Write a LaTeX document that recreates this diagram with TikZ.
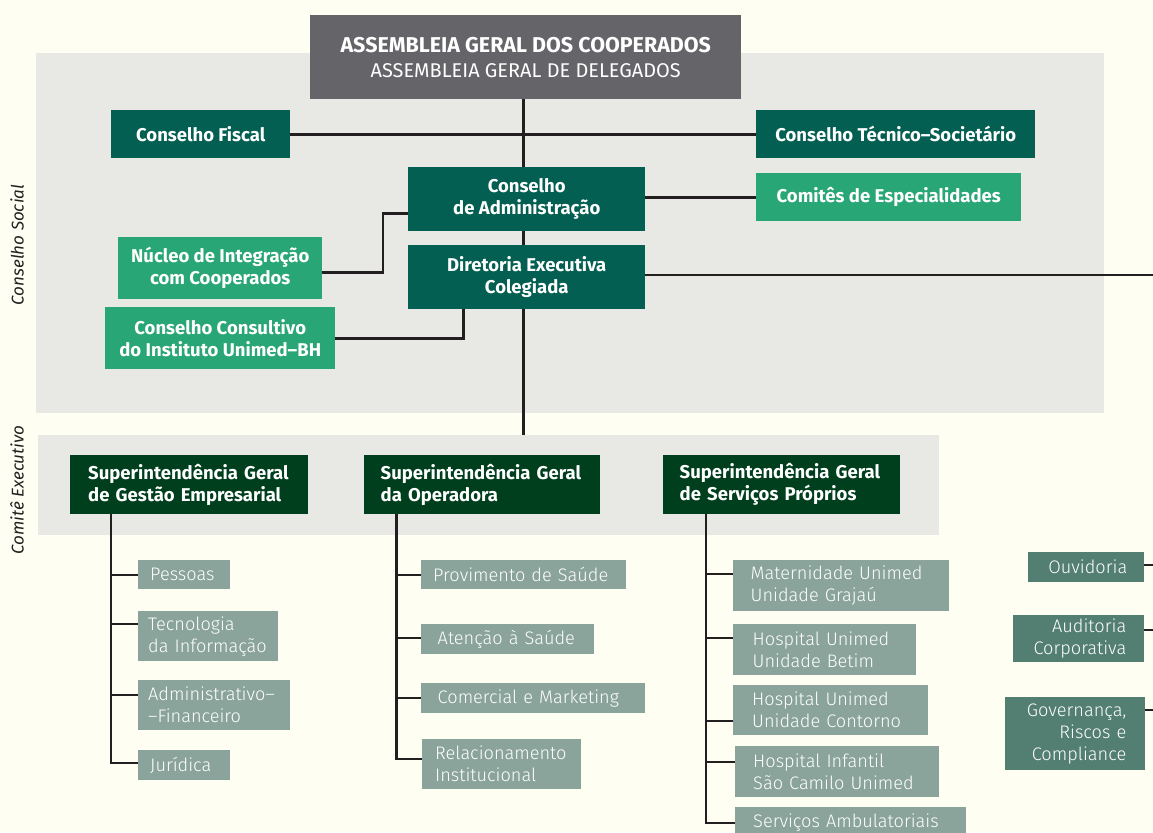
\documentclass[tikz,border=0pt]{standalone}
\usepackage{fontspec}
\setmainfont{Fira Sans}
\newfontfamily\lightfont{Fira Sans Light}

\definecolor{paper}{RGB}{254,254,242}
\definecolor{panel}{RGB}{232,232,228}
\definecolor{assembly}{RGB}{100,100,105}
\definecolor{board}{RGB}{3,95,81}
\definecolor{committee}{RGB}{41,166,118}
\definecolor{superint}{RGB}{0,63,30}
\definecolor{unitgray}{RGB}{138,163,155}
\definecolor{staff}{RGB}{83,126,114}
\definecolor{wire}{RGB}{35,31,32}

\newcommand{\pxu}{0.03cm}

\tikzset{
  box/.style={anchor=north west, inner sep=0pt, text=white, align=center},
  boxsize/.style 2 args={minimum width=#1*\pxu, minimum height=#2*\pxu},
  padbox/.style n args={4}{text width=(#1-#3-#4)*\pxu, inner xsep=(#3+#4)/2*\pxu, minimum height=#2*\pxu},
  link/.style={draw=wire, line width=2.5pt},
  headfont/.style={font=\fontsize{15.8}{18.8}\selectfont\bfseries},
  unitfont/.style={font=\lightfont\fontsize{15.5}{18.8}\selectfont},
  tag/.style={rotate=90, text=wire, font=\fontsize{14.5}{16}\selectfont\itshape},
}

\begin{document}
\begin{tikzpicture}[x=\pxu, y=-\pxu]
  \useasboundingbox (0,0) rectangle (1153,832);
  \clip (0,0) rectangle (1153,832);
  \fill[paper] (0,0) rectangle (1153,832);

  % panels
  \fill[panel] (36,53) rectangle (1104,413);
  \fill[panel] (38,435) rectangle (939,535);
  \node[tag] (socialtag) at (17,245) {Conselho Social};
  \node[tag] (executivetag) at (17,490) {Comitê Executivo};

  % governance
  \node[box, boxsize={431}{84}, fill=assembly, font=\fontsize{17}{21.3}\selectfont] (assembleia) at (310,15)
    {{\fontsize{18.3}{21.3}\selectfont\bfseries ASSEMBLEIA GERAL DOS COOPERADOS}\\
     ASSEMBLEIA GERAL DE DELEGADOS};
  \node[box, headfont, boxsize={179}{48}, fill=board] (fiscal) at (111,110) {Conselho Fiscal};
  \node[box, headfont, boxsize={279}{48}, fill=board] (tecnico) at (756,110) {Conselho Técnico–Societário};
  \node[box, headfont, boxsize={237}{64}, fill=board] (conselhoadm) at (408,167) {Conselho\\de Administração};
  \node[box, headfont, boxsize={265}{48}, fill=committee] (comites) at (756,173) {Comitês de Especialidades};
  \node[box, headfont, boxsize={237}{64}, fill=board] (diretoria) at (408,245) {Diretoria Executiva\\Colegiada};
  \node[box, headfont, boxsize={204}{62}, fill=committee] (nucleo) at (118,237) {Núcleo de Integração\\com Cooperados};
  \node[box, headfont, boxsize={230}{62}, fill=committee] (consultivo) at (105,307) {Conselho Consultivo\\do Instituto Unimed–BH};

  \coordinate (spine) at (523.5,435);
  \coordinate (eastbus) at (1160,275);
  \draw[link] (assembleia.south -| spine) -- (conselhoadm.north -| spine);
  \draw[link] (conselhoadm.south -| spine) -- (diretoria.north -| spine);
  \draw[link] (diretoria.south -| spine) -- (spine);
  \draw[link] (fiscal.east) -- (tecnico.west);
  \draw[link] (conselhoadm.east |- comites.west) -- (comites.west);
  \draw[link] (diretoria.east |- eastbus) -- (eastbus);
  \draw[link] ([yshift=-4*\pxu]nucleo.east) -- ++(60.5,0) |- ([yshift=-14*\pxu]conselhoadm.west);
  \draw[link] (consultivo.east) -| ([xshift=55.5*\pxu]diretoria.south west);

  % superintendencias
  \node[box, headfont, align=left, padbox={238}{59}{16}{20}, fill=superint] (sup1) at (70,455) {Superintendência Geral\\de Gestão Empresarial};
  \node[box, headfont, align=left, padbox={236}{59}{13}{20}, fill=superint] (sup2) at (364,455) {Superintendência Geral\\da Operadora};
  \node[box, headfont, align=left, padbox={237}{59}{15}{18}, fill=superint] (sup3) at (663,455) {Superintendência Geral\\de Serviços Próprios};

  \node[box, unitfont, align=left, padbox={92}{29}{12}{12}, fill=unitgray] (pessoas) at (138,560) {Pessoas};
  \node[box, unitfont, align=left, padbox={140}{50}{12}{8}, fill=unitgray] (tecnologia) at (138,611) {Tecnologia\\da Informação};
  \node[box, unitfont, align=left, padbox={152}{50}{12}{8}, fill=unitgray] (admfin) at (138,680) {Administrativo–\\–Financeiro};
  \node[box, unitfont, align=left, padbox={92}{30}{14}{10}, fill=unitgray] (juridica) at (138,750) {Jurídica};

  \node[box, unitfont, align=left, padbox={205}{29}{16}{8}, fill=unitgray] (provimento) at (421,560) {Provimento de Saúde};
  \node[box, unitfont, align=left, padbox={173}{30}{18}{15}, fill=unitgray] (atencao) at (421,624) {Atenção à Saúde};
  \node[box, unitfont, align=left, padbox={224}{30}{18}{15}, fill=unitgray] (comercial) at (421,683) {Comercial e Marketing};
  \node[box, unitfont, align=left, padbox={159}{50}{16}{10}, fill=unitgray] (relacionamento) at (422,739) {Relacionamento\\Institucional};

  \node[box, unitfont, align=left, padbox={216}{51}{21}{14}, fill=unitgray] (maternidade) at (733,560) {Maternidade Unimed\\Unidade Grajaú};
  \node[box, unitfont, align=left, padbox={183}{51}{21}{18}, fill=unitgray] (betim) at (733,624) {Hospital Unimed\\Unidade Betim};
  \node[box, unitfont, align=left, padbox={195}{50}{21}{17}, fill=unitgray] (contorno) at (733,685) {Hospital Unimed\\Unidade Contorno};
  \node[box, unitfont, align=left, padbox={204}{51}{19}{17}, fill=unitgray] (infantil) at (735,746) {Hospital Infantil\\São Camilo Unimed};
  \node[box, unitfont, align=left, padbox={231}{30}{19}{17}, fill=unitgray] (servicos) at (735,807) {Serviços Ambulatoriais};

  \foreach \c/\o in {pessoas/15, tecnologia/13, admfin/15, juridica/13}
    \draw[link] ([xshift=41*\pxu]sup1.south west) |- ([yshift=-\o*\pxu]\c.north west);
  \foreach \c/\o in {provimento/15, atencao/14, comercial/15, relacionamento/20}
    \draw[link] ([xshift=32.6*\pxu]sup2.south west) |- ([yshift=-\o*\pxu]\c.north west);
  \foreach \c/\o in {maternidade/14, betim/14, contorno/36, infantil/16, servicos/16}
    \draw[link] ([xshift=43*\pxu]sup3.south west) |- ([yshift=-\o*\pxu]\c.north west);

  % staff units
  \node[box, unitfont, align=right, padbox={116}{30}{15}{19}, fill=staff] (ouvidoria) at (1028,552) {Ouvidoria};
  \node[box, unitfont, align=right, padbox={131}{47}{17}{19}, fill=staff] (auditoria) at (1013,615) {Auditoria\\Corporativa};
  \node[box, unitfont, align=right, padbox={140}{73}{19}{19}, fill=staff] (governanca) at (1005,697) {Governança,\\Riscos e\\Compliance};

  \coordinate (westbus) at (1160,0);
  \foreach \n/\o in {ouvidoria/13, auditoria/15, governanca/13}
    \draw[link] ([yshift=-\o*\pxu]\n.north east) -- ([yshift=-\o*\pxu]\n.north east -| westbus);
\end{tikzpicture}
\end{document}
